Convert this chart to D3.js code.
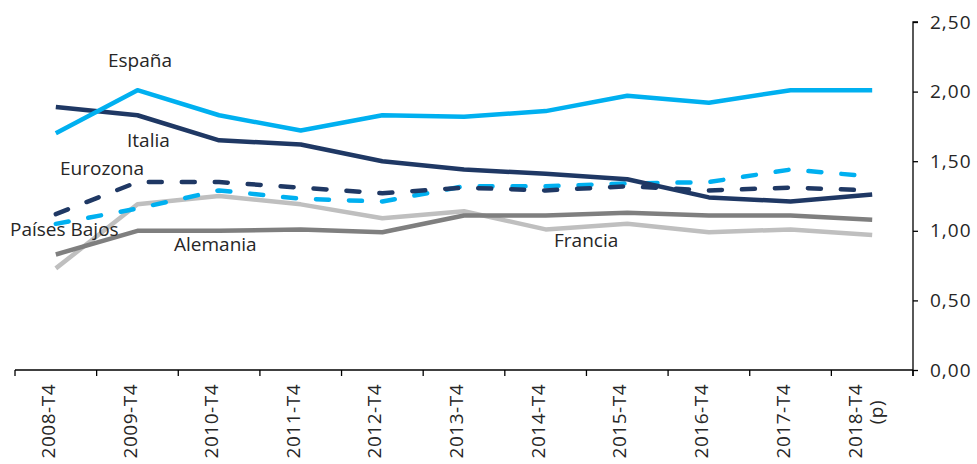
<!DOCTYPE html>
<html><head><meta charset="utf-8">
<script src="https://cdn.jsdelivr.net/npm/d3@7"></script>
<style>
body{margin:0;background:#fff;}
svg{display:block;font-family:"Open Sans",sans-serif;}
</style></head>
<body>
<svg id="c" width="977" height="464"></svg>
<script>
const categories = ["2008-T4","2009-T4","2010-T4","2011-T4","2012-T4","2013-T4","2014-T4","2015-T4","2016-T4","2017-T4","2018-T4|(p)"];
const espana   = [1.70,2.01,1.83,1.72,1.83,1.82,1.86,1.97,1.92,2.01,2.01];
const italia   = [1.89,1.83,1.65,1.62,1.50,1.44,1.41,1.37,1.24,1.21,1.26];
const eurozona = [1.12,1.35,1.35,1.31,1.27,1.31,1.29,1.32,1.29,1.31,1.29];
const paisesBajos = [1.05,1.16,1.29,1.23,1.21,1.32,1.32,1.34,1.35,1.44,1.39];
const alemania = [0.83,1.00,1.00,1.01,0.99,1.11,1.11,1.13,1.11,1.11,1.08];
const francia  = [0.73,1.19,1.25,1.19,1.09,1.14,1.01,1.05,0.99,1.01,0.97];
const yTicks = [0,0.5,1,1.5,2,2.5];

const series = [
  {name:"Francia", values:francia, color:"#bfbfbf", dash:null, label:[554,247]},
  {name:"Alemania", values:alemania, color:"#7f7f7f", dash:null, label:[174,251]},
  {name:"Países Bajos", values:paisesBajos, color:"#00b0f0", dash:"13,20", label:[10,236]},
  {name:"Eurozona", values:eurozona, color:"#1f3864", dash:"13,20", label:[60,175]},
  {name:"Italia", values:italia, color:"#1f3864", dash:null, label:[127,147]},
  {name:"España", values:espana, color:"#00b0f0", dash:null, label:[108,67]}
];

const svg = d3.select("#c");
const x = d3.scaleBand().domain(categories).range([15,913]);
const y = d3.scaleLinear().domain([0,2.5]).range([370,22]);

// x axis
const xAxis = svg.append("g").attr("transform","translate(0,370)");
xAxis.append("line").attr("x1",15).attr("x2",913).attr("stroke","#000").attr("stroke-width",1.3);
xAxis.selectAll("line.t").data(categories.concat(["__end"])).join("line").attr("class","t")
  .attr("x1",(d,i)=> i<categories.length ? x(d) : 913)
  .attr("x2",(d,i)=> i<categories.length ? x(d) : 913)
  .attr("y1",0).attr("y2",6).attr("stroke","#000").attr("stroke-width",1.3);
const xl = xAxis.selectAll("text").data(categories).join("text")
  .attr("transform",d=>`translate(${x(d)+x.bandwidth()/2},14) rotate(-90)`)
  .attr("text-anchor","end").attr("font-size",19).attr("fill","#262626")
  .attr("letter-spacing","0.5");
xl.each(function(d){
  const parts=d.split("|");
  const t=d3.select(this);
  if(parts.length===1){
    t.append("tspan").attr("x",0).attr("dy","-0.05em").text(parts[0]);
  } else {
    t.append("tspan").attr("x",0).attr("dy","-0.55em").text(parts[0]);
    t.append("tspan").attr("x",-16).attr("dy","1.1em").text(parts[1]);
  }
});

// y axis (right)
const yAxis = svg.append("g").attr("transform","translate(913,0)")
  .call(d3.axisRight(y).tickValues(yTicks).tickSize(5).tickPadding(12)
        .tickFormat(d=>d3.format(".2f")(d).replace(".",",")));
yAxis.select(".domain").attr("stroke","#000").attr("stroke-width",1.3).attr("d","M5,22H0V376");
yAxis.selectAll(".tick line").attr("stroke","#000").attr("stroke-width",1.3);
yAxis.selectAll(".tick text").attr("font-size",19).attr("fill","#262626").attr("font-family","Open Sans")
  .attr("letter-spacing","1");

// lines
const line = d3.line().x((d,i)=>x(categories[i])+x.bandwidth()/2).y(d=>y(d));
svg.append("g").selectAll("path").data(series).join("path")
  .attr("d",d=>line(d.values)).attr("fill","none")
  .attr("stroke",d=>d.color).attr("stroke-width",4.5)
  .attr("stroke-dasharray",d=>d.dash)
  .attr("stroke-linecap",d=>d.dash?"round":"butt")
  .attr("stroke-linejoin","round");

// labels
svg.append("g").selectAll("text").data(series).join("text")
  .attr("x",d=>d.label[0]).attr("y",d=>d.label[1])
  .attr("font-size",19).attr("fill","#262626").text(d=>d.name);
</script>
</body></html>
